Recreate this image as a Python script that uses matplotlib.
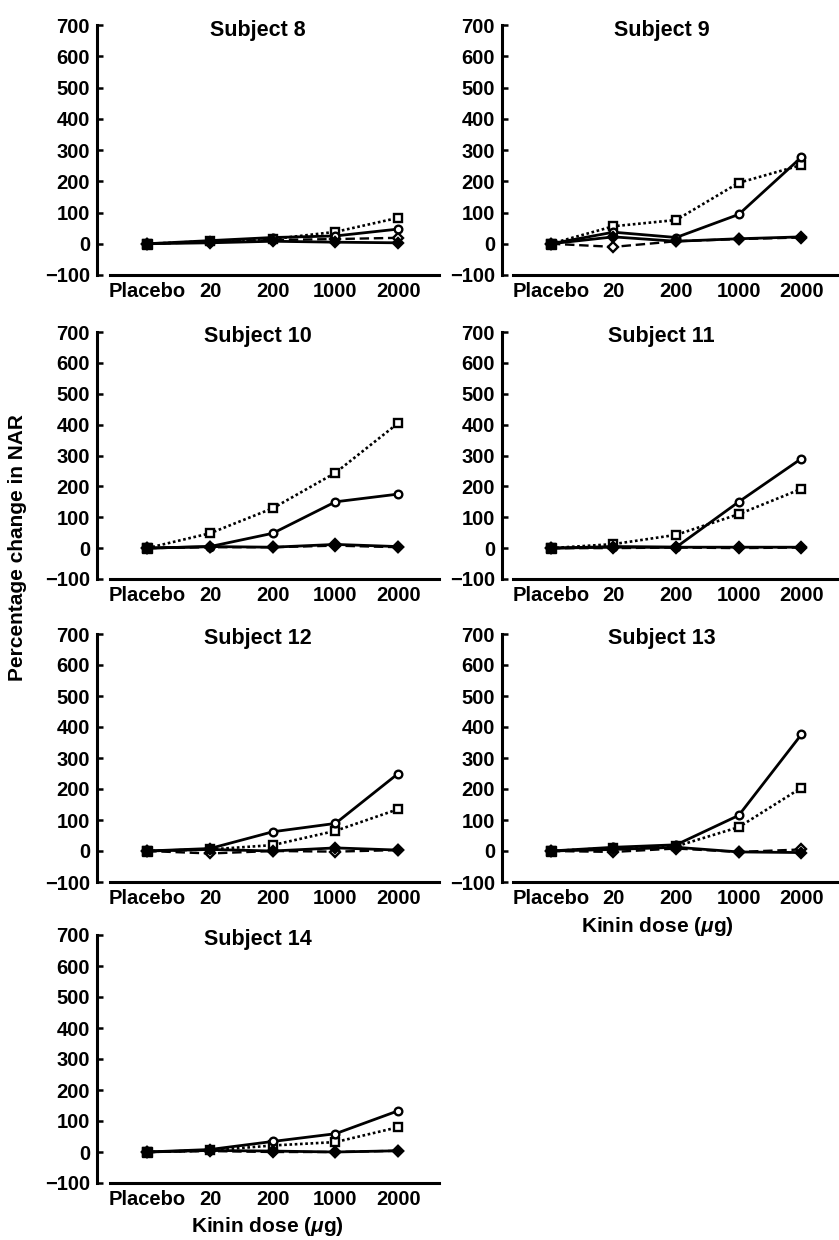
import matplotlib
matplotlib.use("Agg")
import matplotlib.pyplot as plt

plt.rcParams['font.family'] = ['Liberation Sans', 'DejaVu Sans']
plt.rcParams['mathtext.fontset'] = 'custom'
plt.rcParams['mathtext.it'] = 'Liberation Sans:italic:bold'

doses = ["Placebo", "20", "200", "1000", "2000"]
yticks = [-100, 0, 100, 200, 300, 400, 500, 600, 700]
ytick_labels = ["\u2212100", "0", "100", "200", "300", "400", "500", "600", "700"]

subjects = ["Subject 8", "Subject 9", "Subject 10", "Subject 11",
            "Subject 12", "Subject 13", "Subject 14"]

# series: open circle solid (A), open square dotted (B),
# filled diamond solid (C), open diamond dashed (D)
circle_solid = [
    [0, 10, 20, 25, 47],
    [0, 37, 20, 94, 277],
    [0, 5, 48, 150, 175],
    [0, 5, 3, 150, 290],
    [0, 8, 62, 89, 250],
    [0, 12, 20, 115, 376],
    [0, 8, 34, 59, 133],
]
square_dotted = [
    [0, 8, 15, 38, 83],
    [0, 56, 76, 195, 252],
    [0, 48, 129, 244, 405],
    [0, 13, 43, 110, 192],
    [0, 5, 19, 65, 135],
    [0, 10, 15, 77, 204],
    [0, 5, 21, 32, 80],
]
diamond_filled = [
    [0, 3, 8, 5, 3],
    [0, 22, 8, 16, 22],
    [0, 5, 3, 12, 5],
    [0, 3, 3, 3, 3],
    [0, 5, 0, 10, 3],
    [0, 5, 12, -3, -5],
    [0, 5, 3, 0, 4],
]
diamond_open = [
    [0, 5, 12, 15, 19],
    [0, -10, 8, 15, 20],
    [0, 3, 3, 8, 3],
    [0, 0, 2, 0, 2],
    [0, -8, 0, -2, 3],
    [0, -3, 8, -3, 5],
    [0, 3, 0, 0, 4],
]

W, H = 839, 1240
fig = plt.figure(figsize=(W / 100, H / 100), dpi=100)

# pixel boxes: (top(700), bottom(-100)) per row; (left, right, xmin, xmax) per column
rows = [(25, 275), (332, 579), (634, 882), (935, 1183)]
cols = [(97, 439, -0.8, 4.65), (502, 839, -0.78, 4.6)]

FS = 14.5
x = list(range(len(doses)))

for i, name in enumerate(subjects):
    r, c = divmod(i, 2)
    top, bot = rows[r]
    left, right, x0, x1 = cols[c]
    ax = fig.add_axes([left / W, 1 - bot / H, (right - left) / W, (bot - top) / H])
    ax.set_xlim(x0, x1)
    ax.set_ylim(-100, 700)
    for s in ['top', 'right']:
        ax.spines[s].set_visible(False)
    ax.spines['left'].set_linewidth(2.2)
    ax.spines['bottom'].set_linewidth(2.2)
    ax.spines['bottom'].set_bounds(-0.6, x1)
    ax.set_yticks(yticks)
    ax.set_yticklabels(ytick_labels, fontsize=FS, fontweight='bold')
    ax.set_xticks(x)
    ax.set_xticklabels(doses, fontsize=FS, fontweight='bold')
    ax.tick_params(axis='x', length=0, pad=5)
    ax.tick_params(axis='y', direction='in', length=4, width=1.8, pad=5)

    kw = dict(color='black', markersize=5.5, markeredgewidth=1.7, zorder=3)
    ax.plot(x, diamond_open[i], linestyle=(0, (4, 2)), linewidth=1.7,
            marker='D', markerfacecolor='white', **kw)
    ax.plot(x, square_dotted[i], linestyle=(0, (1, 1)), linewidth=1.9,
            marker='s', markerfacecolor='white', **kw)
    ax.plot(x, circle_solid[i], linestyle='-', linewidth=2.0,
            marker='o', markerfacecolor='white', **kw)
    ax.plot(x, diamond_filled[i], linestyle='-', linewidth=2.0,
            marker='D', markerfacecolor='black', **kw)
    # overlapping placebo markers appear as a filled block
    ax.plot([0], [0], marker='s', color='black', markersize=7, zorder=4)

    ax.text(1.77, 684, name, ha='center', va='center', fontsize=15.5,
            fontweight='bold')

fig.text(267 / W, 1 - 1227 / H, "Kinin dose ($\\mu$g)", ha='center', va='center',
         fontsize=15, fontweight='bold')
fig.text(657 / W, 1 - 927 / H, "Kinin dose ($\\mu$g)", ha='center', va='center',
         fontsize=15, fontweight='bold')
fig.text(18 / W, 1 - 548 / H, "Percentage change in NAR", rotation=90,
         ha='center', va='center', fontsize=15, fontweight='bold')

fig.savefig("out.png", dpi=100)
